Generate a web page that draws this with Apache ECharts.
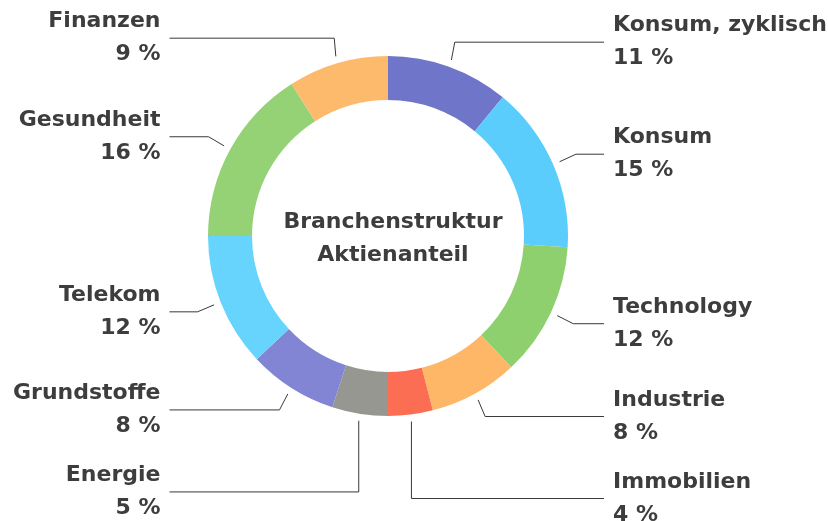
<!DOCTYPE html>
<html><head><meta charset="utf-8">
<script src="https://cdn.jsdelivr.net/npm/echarts@6/dist/echarts.min.js"></script>
<style>html,body{margin:0;padding:0;background:#fff;overflow:hidden;width:828px;height:521px}#c{position:absolute;left:0;top:-10px;width:828px;height:620px}</style>
</head><body><div id="c"></div>
<script>
const categories = ['Konsum, zyklisch','Konsum','Technology','Industrie','Immobilien','Energie','Grundstoffe','Telekom','Gesundheit','Finanzen'];
const values = [11,15,12,8,4,5,8,12,16,9];
const colors = ['#6f75c8','#5acdfd','#8fd06e','#fdb766','#fc6e53','#979791','#8185d3','#66d4fd','#95d275','#fdba6d'];
const centerTitle = 'Branchenstruktur\nAktienanteil';

const CX = 388, CY = 246, R_IN = 136, R_OUT = 180, LINE_GAP = 7, R_ELBOW = 205;
const chart = echarts.init(document.getElementById('c'));
const font = '"DejaVu Sans", sans-serif';
chart.setOption({
  animation:false,
  title:{text:centerTitle,left:CX,top:CY-2,textAlign:'center',textVerticalAlign:'middle',
    textStyle:{fontFamily:font,fontWeight:'bold',fontSize:22,color:'#3d3d3d',lineHeight:33}},
  series:[{
    type:'pie',
    center:[CX,CY],
    radius:[R_IN,R_OUT],
    startAngle:90,
    clockwise:true,
    avoidLabelOverlap:true,
    data:categories.map((n,i)=>({name:n,value:values[i],itemStyle:{color:colors[i]}})),
    label:{show:true,formatter:'{b}\n{c} %',fontFamily:font,fontWeight:'bold',fontSize:22,width:240,
      color:'#3d3d3d',lineHeight:33,padding:[7,0,7,0],alignTo:'labelLine',distanceToLabelLine:9},
    labelLine:{show:true,length:26,length2:27,lineStyle:{color:'#383838',width:1}},
    labelLayout:function(p){
      const pts = p.labelLinePoints;
      if(!pts) return {};
      const p0 = pts[0], p2 = pts[pts.length-1];
      const dx = p0[0]-CX, dy = p0[1]-CY, d = Math.sqrt(dx*dx+dy*dy)||1;
      const s = [CX+dx/d*(R_OUT+LINE_GAP), CY+dy/d*(R_OUT+LINE_GAP)];
      const ly = p2[1];
      const dir = p2[0] > CX ? 1 : -1;
      const ddy = ly - CY;
      let ex = Math.abs(ddy) < R_ELBOW ? CX + dir*Math.sqrt(R_ELBOW*R_ELBOW - ddy*ddy) : CX;
      ex = dir > 0 ? Math.max(ex, s[0]) : Math.min(ex, s[0]);
      return {labelLinePoints:[s,[ex,ly],[p2[0],ly]]};
    }
  }]
});
</script></body></html>
